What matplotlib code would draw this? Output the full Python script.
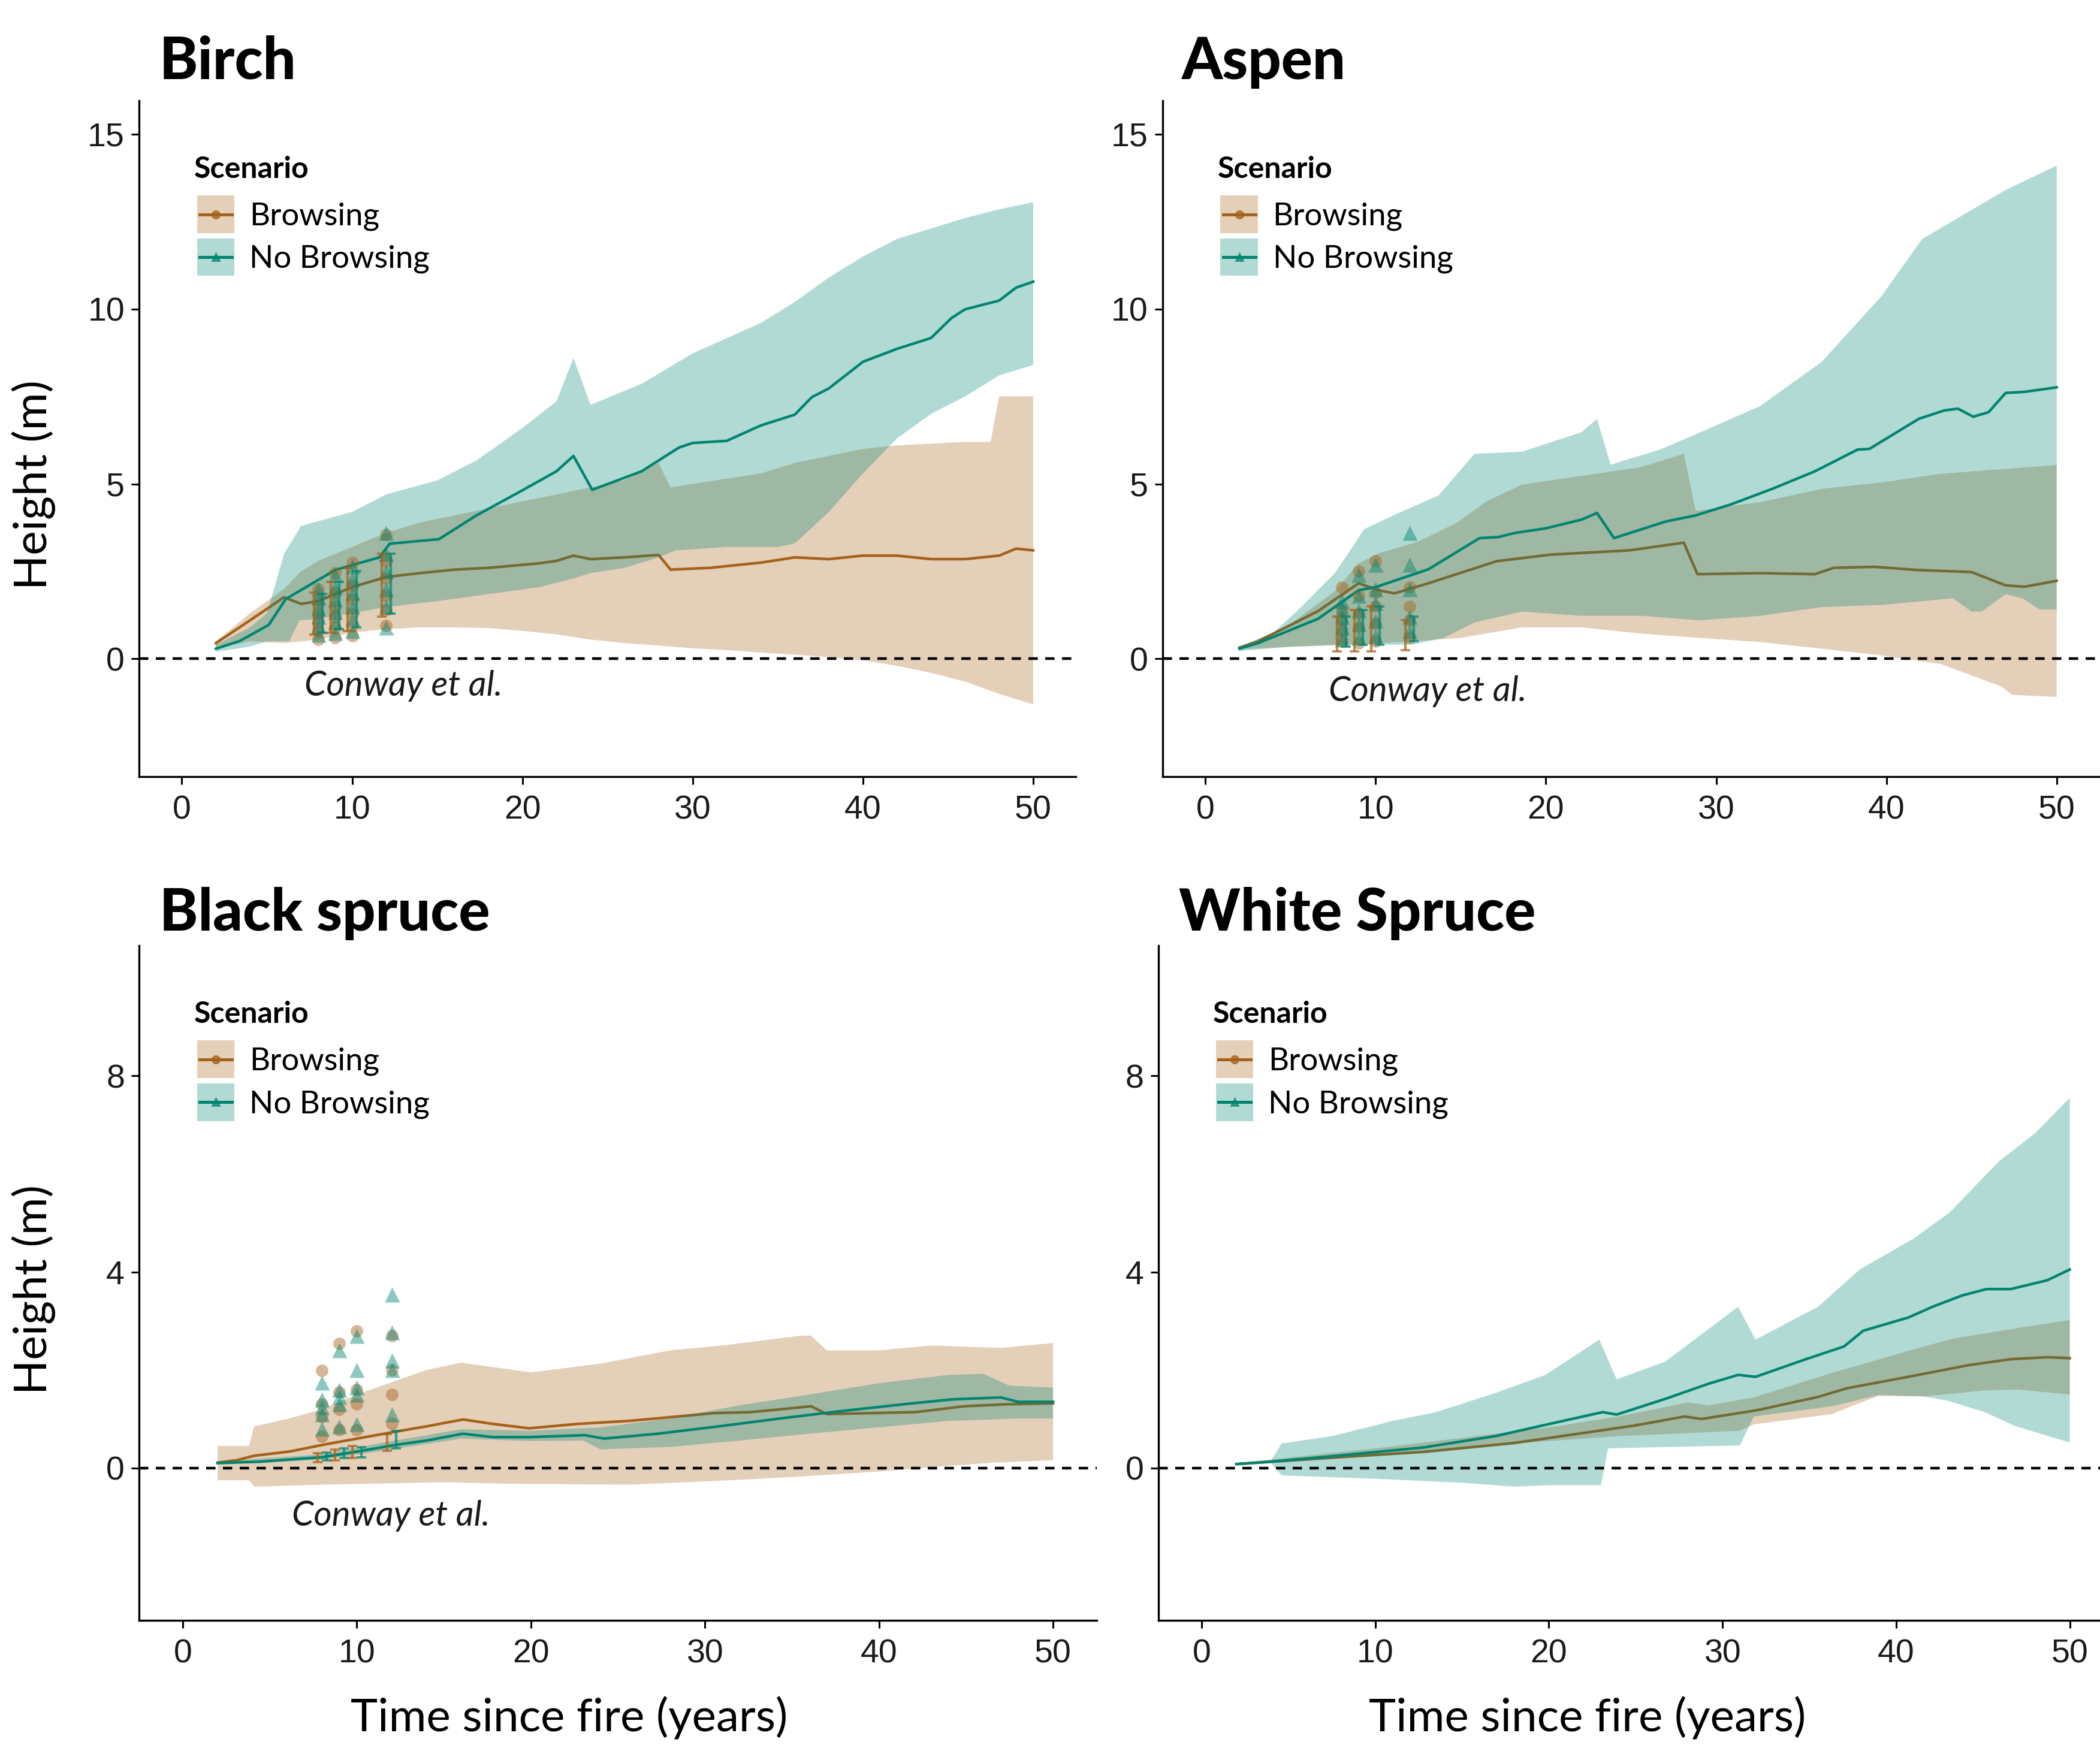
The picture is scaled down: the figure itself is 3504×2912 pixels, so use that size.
import matplotlib
matplotlib.use("Agg")
import matplotlib.pyplot as plt
import numpy as np
from matplotlib.patches import Rectangle
from matplotlib.lines import Line2D

# ---------------- DATA ----------------
scenarios = ["Browsing", "No Browsing"]
titles = ["Birch", "Aspen", "Black spruce", "White Spruce"]
x_ticks = [0, 10, 20, 30, 40, 50]
y_ticks_top = [0, 5, 10, 15]
y_ticks_bottom = [0, 4, 8]

# Birch
birch_b_mean_x = [2, 4, 6, 7, 8, 10, 12, 14, 16, 18, 21, 22, 23, 24, 26, 28, 28.7, 31, 34, 36, 38, 40, 42, 44, 46, 48, 49, 50]
birch_b_mean = [0.45, 1.1, 1.76, 1.57, 1.65, 2.05, 2.34, 2.45, 2.55, 2.6, 2.73, 2.8, 2.95, 2.85, 2.9, 2.97, 2.55, 2.6, 2.75, 2.9, 2.85, 2.95, 2.95, 2.85, 2.85, 2.95, 3.15, 3.1]
birch_b_up_x = [2, 4, 6, 7, 8, 10, 12, 14, 16, 18, 20, 22, 24, 26, 28, 28.7, 30, 32, 34, 36, 38, 40, 42, 44, 46, 47.5, 48, 50]
birch_b_up = [0.5, 1.3, 2.0, 2.5, 2.8, 3.2, 3.6, 3.9, 4.1, 4.3, 4.5, 4.7, 4.9, 5.1, 5.6, 4.9, 5.0, 5.15, 5.3, 5.6, 5.8, 6.0, 6.1, 6.15, 6.2, 6.2, 7.5, 7.5]
birch_b_lo_x = [2, 4, 6, 7, 8, 10, 12, 14, 16, 18, 20, 22, 24, 26, 28, 30, 32, 34, 36, 38, 40, 42, 44, 46, 48, 50]
birch_b_lo = [0.3, 0.5, 0.45, 0.5, 0.55, 0.75, 0.85, 0.9, 0.9, 0.88, 0.8, 0.7, 0.55, 0.45, 0.38, 0.3, 0.25, 0.18, 0.12, 0.05, -0.04, -0.2, -0.4, -0.65, -1.0, -1.3]
birch_nb_mean_x = [2, 3.4, 5.1, 6.1, 8.1, 9, 11.6, 12.2, 15.1, 17.3, 19.9, 22, 23, 24.1, 27, 29.2, 30, 32, 34, 36, 37, 38, 40, 42, 44, 45.2, 46, 48, 49, 50]
birch_nb_mean = [0.29, 0.51, 0.97, 1.71, 2.28, 2.54, 2.9, 3.29, 3.42, 4.1, 4.79, 5.36, 5.8, 4.83, 5.36, 6.04, 6.17, 6.23, 6.67, 6.98, 7.48, 7.73, 8.49, 8.86, 9.17, 9.74, 9.99, 10.24, 10.61, 10.78]
birch_nb_up_x = [2, 4, 5, 6, 7, 10, 12, 15, 17.3, 20, 22, 23, 24, 27, 30, 34, 36, 38, 40, 42, 44, 46, 48, 50]
birch_nb_up = [0.4, 0.9, 1.3, 3.0, 3.8, 4.2, 4.7, 5.1, 5.67, 6.6, 7.36, 8.6, 7.26, 7.86, 8.73, 9.6, 10.2, 10.9, 11.5, 12.0, 12.3, 12.6, 12.85, 13.05]
birch_nb_lo_x = [2, 4, 5, 6.3, 6.9, 8, 10, 12, 15, 18, 21, 23, 24, 26, 28, 29, 32, 35, 36, 38, 40, 42, 44, 46, 48, 50]
birch_nb_lo = [0.2, 0.35, 0.5, 0.5, 1.1, 1.14, 1.3, 1.48, 1.65, 1.85, 2.05, 2.3, 2.45, 2.6, 2.9, 3.1, 3.2, 3.2, 3.3, 4.2, 5.3, 6.3, 7.0, 7.5, 8.1, 8.4]
birch_obs_years = [8, 9, 10, 12]
birch_obs_b = [[0.55, 0.8, 1.05, 1.3, 1.6, 2.0], [0.6, 0.9, 1.2, 1.5, 1.9, 2.45],
               [0.65, 0.95, 1.3, 1.7, 2.1, 2.75], [0.95, 1.4, 1.8, 2.3, 2.8, 3.55]]
birch_obs_nb = [[0.7, 0.95, 1.2, 1.45, 1.75, 2.0], [0.75, 1.05, 1.35, 1.7, 2.05, 2.4],
                [0.8, 1.15, 1.5, 1.9, 2.3, 2.65], [0.9, 1.5, 2.0, 2.5, 3.0, 3.6]]
birch_err_b = [[0.7, 0.75, 0.8, 1.2], [1.9, 2.2, 2.6, 3.0]]
birch_err_nb = [[0.75, 0.85, 0.9, 1.3], [1.85, 2.2, 2.5, 3.0]]

# Aspen
aspen_b_mean_x = [2, 3.1, 6.6, 9, 10.2, 11.1, 13.1, 17.1, 20.3, 24.9, 28.1, 28.9, 32.6, 35.8, 36.9, 39.3, 41.8, 45, 47, 48.1, 50]
aspen_b_mean = [0.32, 0.5, 1.36, 2.16, 1.96, 1.87, 2.16, 2.79, 2.98, 3.1, 3.32, 2.42, 2.45, 2.42, 2.6, 2.63, 2.54, 2.48, 2.1, 2.06, 2.23]
aspen_b_up_x = [2, 5, 7.6, 9, 10.2, 12.5, 14.8, 16.5, 18.6, 22.1, 25.6, 28.1, 28.8, 32.6, 36.2, 39.7, 43.2, 50]
aspen_b_up = [0.3, 1.0, 1.93, 2.73, 3.02, 3.35, 3.9, 4.5, 4.98, 5.23, 5.48, 5.86, 4.23, 4.48, 4.86, 5.04, 5.29, 5.54]
aspen_b_lo_x = [2, 8, 12.2, 15, 18.6, 22.1, 25.6, 29, 32.6, 36.2, 39.7, 43.2, 46.7, 47.4, 50]
aspen_b_lo = [0.28, 0.4, 0.5, 0.6, 0.9, 0.9, 0.72, 0.6, 0.48, 0.29, 0.1, -0.15, -0.78, -1.03, -1.09]
aspen_nb_mean_x = [2, 3.1, 6.6, 9, 10, 13.1, 16.1, 17.2, 18.2, 20, 22.1, 23, 24, 27, 28.8, 30.9, 33.3, 35.8, 38.3, 39, 41.9, 43.4, 44.2, 45.1, 46, 47, 48.1, 50]
aspen_nb_mean = [0.29, 0.45, 1.14, 1.96, 2.05, 2.56, 3.45, 3.48, 3.6, 3.73, 3.98, 4.17, 3.45, 3.92, 4.1, 4.42, 4.86, 5.36, 5.98, 6.0, 6.86, 7.1, 7.15, 6.92, 7.05, 7.6, 7.63, 7.76]
aspen_nb_up_x = [2, 4, 5.5, 7.6, 8.7, 9.3, 11.3, 13.7, 15.8, 18.6, 22.1, 23, 23.8, 26.7, 29.1, 32.6, 36.2, 39.7, 42.1, 44.2, 47, 50]
aspen_nb_up = [0.35, 0.75, 1.42, 2.45, 3.24, 3.7, 4.16, 4.67, 5.86, 5.92, 6.48, 6.86, 5.55, 5.98, 6.48, 7.23, 8.49, 10.36, 12.0, 12.6, 13.4, 14.1]
aspen_nb_lo_x = [2, 5, 8, 10, 12.2, 14, 15.8, 18.6, 22.1, 25.6, 29, 32.6, 36.2, 39.7, 43.9, 45, 45.6, 47, 48, 49, 50]
aspen_nb_lo = [0.22, 0.35, 0.4, 0.4, 0.41, 0.6, 1.04, 1.35, 1.23, 1.23, 1.1, 1.23, 1.48, 1.54, 1.73, 1.35, 1.35, 1.85, 1.73, 1.41, 1.41]
aspen_obs_years = [8, 9, 10, 12]
aspen_obs_b = [[0.5, 0.8, 1.1, 1.4, 2.05], [0.45, 0.9, 1.3, 1.8, 2.5],
               [0.5, 1.0, 1.5, 1.9, 2.8], [0.6, 1.1, 1.5, 2.05]]
aspen_obs_nb = [[0.55, 0.9, 1.2, 1.45, 1.65], [0.6, 1.0, 1.4, 1.8, 2.4],
                [0.65, 1.1, 1.6, 2.0, 2.7], [0.8, 1.2, 2.0, 2.7, 3.6]]
aspen_err_b = [[0.22, 0.22, 0.22, 0.25], [1.2, 1.4, 1.5, 1.1]]
aspen_err_nb = [[0.35, 0.4, 0.4, 0.5], [1.2, 1.4, 1.5, 1.2]]

# Black spruce
bspruce_b_mean_x = [2, 3.1, 4.1, 6.2, 8, 9.7, 12.2, 14, 16.1, 17.8, 19.9, 22.7, 25.6, 28.4, 30.5, 32.6, 34.7, 36.1, 37, 39.6, 42.1, 44.9, 47.3, 50]
bspruce_b_mean = [0.11, 0.16, 0.25, 0.34, 0.47, 0.58, 0.74, 0.85, 0.99, 0.9, 0.81, 0.9, 0.96, 1.05, 1.12, 1.14, 1.21, 1.26, 1.1, 1.12, 1.14, 1.26, 1.3, 1.32]
bspruce_b_up_x = [2, 3.8, 4.1, 6, 8, 10, 12, 14, 16, 18, 20, 24, 28, 31, 35.5, 36.1, 37, 40, 43, 47, 50]
bspruce_b_up = [0.45, 0.45, 0.85, 1.0, 1.2, 1.5, 1.75, 2.0, 2.15, 2.05, 1.95, 2.13, 2.4, 2.5, 2.7, 2.7, 2.4, 2.4, 2.5, 2.45, 2.55]
bspruce_b_lo_x = [2, 3.8, 4.1, 8, 15, 18.5, 25.6, 29, 32.6, 36.1, 39.6, 43.1, 46.6, 50]
bspruce_b_lo = [-0.25, -0.25, -0.38, -0.34, -0.29, -0.32, -0.34, -0.29, -0.23, -0.16, -0.08, 0.02, 0.11, 0.16]
bspruce_nb_mean_x = [2, 4.5, 8, 10.1, 12.2, 14, 16.1, 17.8, 19.9, 23.1, 24.2, 27.3, 30.8, 34.3, 37.8, 41.4, 44.2, 47, 48, 50]
bspruce_nb_mean = [0.1, 0.13, 0.22, 0.34, 0.47, 0.56, 0.7, 0.63, 0.63, 0.67, 0.6, 0.7, 0.85, 1.01, 1.16, 1.3, 1.4, 1.44, 1.35, 1.35]
bspruce_nb_up_x = [2, 8, 12, 16, 20, 24, 28, 32, 36, 40, 44, 46, 47.5, 50]
bspruce_nb_up = [0.13, 0.28, 0.55, 0.79, 0.76, 0.83, 1.01, 1.28, 1.5, 1.73, 1.9, 1.92, 1.68, 1.64]
bspruce_nb_lo_x = [2, 8, 12, 16, 20, 23, 24, 28, 32, 36, 40, 44, 48, 50]
bspruce_nb_lo = [0.08, 0.17, 0.38, 0.6, 0.55, 0.56, 0.38, 0.43, 0.56, 0.7, 0.83, 0.96, 1.01, 1.01]
bspruce_obs_years = [8, 9, 10, 12]
bspruce_obs_b = [[0.65, 1.05, 1.3, 1.99], [0.78, 1.2, 1.55, 2.54],
                 [0.78, 1.3, 1.6, 2.8], [0.9, 1.5, 2.0, 2.7]]
bspruce_obs_nb = [[0.8, 1.1, 1.25, 1.4, 1.75], [0.85, 1.3, 1.45, 1.6, 2.4],
                  [0.9, 1.5, 1.65, 2.0, 2.7], [1.1, 2.0, 2.2, 2.77, 3.54]]
bspruce_err_b = [[0.12, 0.15, 0.2, 0.35], [0.3, 0.38, 0.45, 0.7]]
bspruce_err_nb = [[0.15, 0.2, 0.22, 0.4], [0.32, 0.4, 0.42, 0.75]]

# White spruce
wspruce_b_mean_x = [2, 7.5, 12.8, 18, 21.5, 25, 27.8, 28.8, 32, 35.5, 37.2, 40.7, 44.2, 46.6, 48.7, 50]
wspruce_b_mean = [0.08, 0.21, 0.33, 0.51, 0.69, 0.87, 1.05, 1.0, 1.18, 1.45, 1.63, 1.86, 2.1, 2.22, 2.26, 2.24]
wspruce_b_up_x = [2, 10, 20, 24, 28, 29.2, 31.8, 36.3, 41.6, 43.3, 46.9, 50]
wspruce_b_up = [0.1, 0.4, 0.83, 1.05, 1.34, 1.28, 1.44, 1.94, 2.48, 2.64, 2.85, 3.02]
wspruce_b_lo_x = [2, 10, 20, 24, 31, 31.8, 36.3, 37.7, 39, 41.6, 45, 47, 50]
wspruce_b_lo = [0.06, 0.28, 0.55, 0.65, 0.76, 0.89, 1.1, 1.3, 1.47, 1.46, 1.58, 1.6, 1.5]
wspruce_nb_mean_x = [2, 4, 7.5, 12.8, 16.9, 20.8, 23.1, 23.9, 26.7, 29.2, 30.9, 31.9, 34.8, 37, 38.1, 40.7, 42.1, 43.8, 45.2, 46.6, 48.7, 50]
wspruce_nb_mean = [0.08, 0.13, 0.24, 0.42, 0.65, 0.96, 1.14, 1.09, 1.41, 1.72, 1.9, 1.86, 2.22, 2.48, 2.8, 3.07, 3.29, 3.52, 3.65, 3.65, 3.83, 4.05]
wspruce_nb_up_x = [2, 4, 4.6, 7.5, 11, 13.5, 17, 19.8, 22.9, 23.9, 26.7, 30.9, 31.9, 35.5, 37.9, 41, 43.1, 45.9, 48, 50]
wspruce_nb_up = [0.09, 0.15, 0.5, 0.65, 0.96, 1.14, 1.54, 1.9, 2.62, 1.81, 2.17, 3.29, 2.62, 3.29, 4.05, 4.68, 5.22, 6.25, 6.83, 7.55]
wspruce_nb_lo_x = [2, 4, 4.6, 10, 15, 18, 20, 23, 23.4, 27, 31, 31.8, 36.3, 39, 41.6, 43, 45.1, 46.9, 50]
wspruce_nb_lo = [0.07, 0.1, -0.15, -0.22, -0.3, -0.38, -0.35, -0.35, 0.4, 0.43, 0.46, 1.05, 1.26, 1.49, 1.46, 1.37, 1.14, 0.85, 0.52]

# ---------------- STYLE ----------------
BROWN = "#A6611A"
TEAL = "#018571"
W, H = 1568.0, 1303.0  # layout units (reference, downscaled)
SANS = ["Lato", "DejaVu Sans"]
TICKF = ["Liberation Sans", "DejaVu Sans"]

fig = plt.figure(figsize=(17.525, 14.56), dpi=200)


def add_ax(l, t, r, b):
    return fig.add_axes([l / W, 1 - b / H, (r - l) / W, (b - t) / H])


def band(ax, xu, yu, xl, yl, color, z):
    xs = np.concatenate([np.asarray(xu, float), np.asarray(xl, float)[::-1]])
    ys = np.concatenate([np.asarray(yu, float), np.asarray(yl, float)[::-1]])
    ax.fill(xs, ys, color=color, alpha=0.3, lw=0, zorder=z)


def obs(ax, years, vals_b, vals_nb, err_b, err_nb):
    for yr, vb, vn in zip(years, vals_b, vals_nb):
        ax.plot([yr] * len(vb), vb, ls="none", marker="o", ms=7.5, color=BROWN,
                alpha=0.45, mec="none", zorder=10)
        ax.plot([yr] * len(vn), vn, ls="none", marker="^", ms=9, color=TEAL,
                alpha=0.45, mec="none", zorder=11)
    yrs = np.asarray(years, float)
    for off, err, col in ((-0.25, err_b, BROWN), (0.25, err_nb, TEAL)):
        lo = np.asarray(err[0]); hi = np.asarray(err[1])
        mid = (lo + hi) / 2
        ax.errorbar(yrs + off, mid, yerr=[mid - lo, hi - mid], fmt="none",
                    ecolor=col, elinewidth=1.6, capsize=3, capthick=1.4,
                    alpha=0.7, zorder=12)


def panel(ax, d, ylim, yticks, conway=None):
    band(ax, d["b_up_x"], d["b_up"], d["b_lo_x"], d["b_lo"], BROWN, 1)
    ax.plot(d["b_mean_x"], d["b_mean"], color=BROWN, lw=1.6, zorder=2)
    band(ax, d["nb_up_x"], d["nb_up"], d["nb_lo_x"], d["nb_lo"], TEAL, 3)
    ax.plot(d["nb_mean_x"], d["nb_mean"], color=TEAL, lw=1.6, zorder=4)
    ax.axhline(0, color="black", lw=1.6, ls=(0, (3.5, 2.8)), zorder=5)
    ax.set_xlim(-2.5, 52.5)
    ax.set_ylim(*ylim)
    ax.set_xticks(x_ticks)
    ax.set_yticks(yticks)
    for s in ("top", "right"):
        ax.spines[s].set_visible(False)
    for s in ("left", "bottom"):
        ax.spines[s].set_linewidth(1.2)
    ax.tick_params(direction="out", length=4.8, width=1.1, labelsize=20,
                   colors="black", labelcolor="#1a1a1a")
    ax.tick_params(axis="x", pad=6)
    ax.tick_params(axis="y", pad=4)
    for lab in ax.get_xticklabels() + ax.get_yticklabels():
        lab.set_fontfamily(TICKF)
    if conway is not None:
        ax.text(conway[0], conway[1], "Conway et al.", ha="left", va="center",
                fontsize=21, fontstyle="italic", fontweight="normal",
                family=SANS, color="#1a1a1a", zorder=20)


def legend(left, top):
    fig.text((left + 41) / W, 1 - (top + 58) / H, "Scenario", ha="left",
             va="baseline", fontsize=18, fontweight="bold", family=SANS)
    for i, (col, mk, lab) in enumerate(((BROWN, "o", scenarios[0]), (TEAL, "^", scenarios[1]))):
        y0 = top + 71 + i * 32
        fig.add_artist(Rectangle(((left + 43) / W, 1 - (y0 + 28) / H), 28 / W, 28 / H,
                                 transform=fig.transFigure, facecolor=col,
                                 alpha=0.3, lw=0))
        yc = 1 - (y0 + 14) / H
        fig.add_artist(Line2D([(left + 45) / W, (left + 69) / W], [yc, yc],
                              transform=fig.transFigure, color=col, lw=1.8))
        fig.add_artist(Line2D([(left + 57) / W], [yc], transform=fig.transFigure,
                              color=col, marker=mk, ms=4.5, ls="none", alpha=0.7))
        fig.text((left + 82) / W, 1 - (y0 + 22) / H, lab, ha="left", va="baseline",
                 fontsize=19, family=SANS)


def pack(prefix):
    g = globals()
    keys = ["b_mean_x", "b_mean", "b_up_x", "b_up", "b_lo_x", "b_lo",
            "nb_mean_x", "nb_mean", "nb_up_x", "nb_up", "nb_lo_x", "nb_lo"]
    return {k: g[prefix + "_" + k] for k in keys}


layout = [
    (104, 75, 803, 580),
    (868, 75, 1567, 580),
    (104, 706, 818.5, 1210),
    (864.6, 706, 1577.4, 1210),
]
ax_tl = add_ax(*layout[0])
ax_tr = add_ax(*layout[1])
ax_bl = add_ax(*layout[2])
ax_br = add_ax(*layout[3])

top_ylim = (-3.37, 15.96)
bot_ylim = (-3.11, 10.66)

panel(ax_tl, pack("birch"), top_ylim, y_ticks_top, conway=(7.2, -0.77))
obs(ax_tl, birch_obs_years, birch_obs_b, birch_obs_nb, birch_err_b, birch_err_nb)
panel(ax_tr, pack("aspen"), top_ylim, y_ticks_top, conway=(7.25, -0.92))
obs(ax_tr, aspen_obs_years, aspen_obs_b, aspen_obs_nb, aspen_err_b, aspen_err_nb)
panel(ax_bl, pack("bspruce"), bot_ylim, y_ticks_bottom, conway=(6.25, -0.98))
obs(ax_bl, bspruce_obs_years, bspruce_obs_b, bspruce_obs_nb, bspruce_err_b, bspruce_err_nb)
panel(ax_br, pack("wspruce"), bot_ylim, y_ticks_bottom)

for (l, t, r, b) in layout:
    legend(l, t)

# Titles
title_pos = [(119, 59), (882, 59), (119, 695), (880, 695)]
for (tx, ty), tt in zip(title_pos, titles):
    fig.text(tx / W, 1 - ty / H, tt, ha="left", va="baseline", fontsize=35,
             fontweight="black", family=SANS)

# Axis labels
for cy in (362, 963):
    fig.text(25 / W, 1 - cy / H, "Height (m)", rotation=90, ha="center",
             va="center", fontsize=27.5, family=SANS)
for cx in (425, 1185):
    fig.text(cx / W, 1 - 1283 / H, "Time since fire (years)", ha="center",
             va="center", fontsize=27.5, family=SANS)

fig.savefig("out.png", dpi=200, facecolor="white")
